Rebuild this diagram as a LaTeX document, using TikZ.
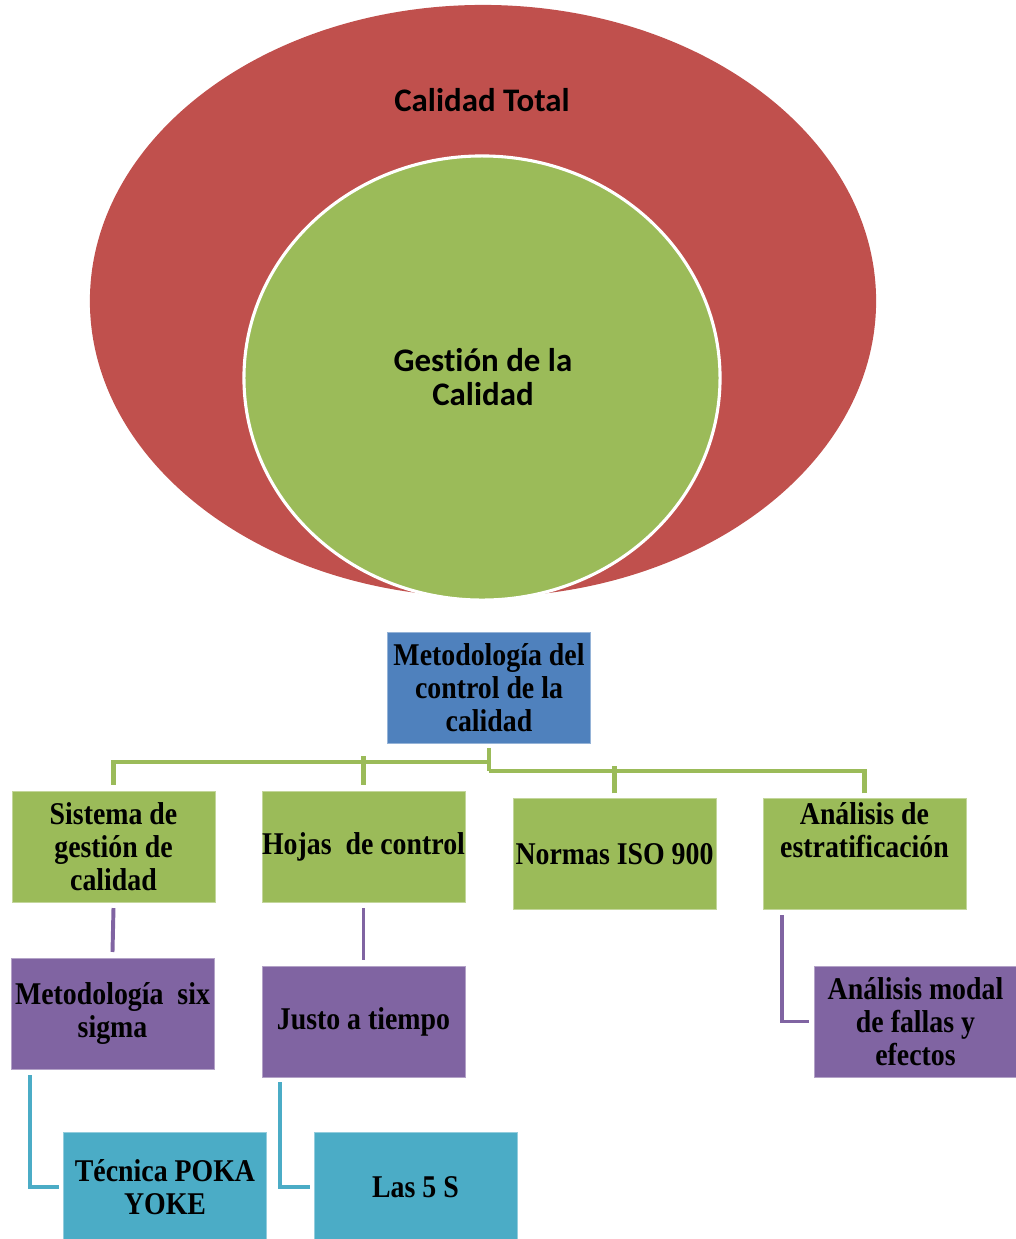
\documentclass[tikz,border=0pt]{standalone}
\usepackage{fontspec}
\usetikzlibrary{shapes.geometric,calc}
\newfontfamily\boxfont[FakeStretch=0.88]{Liberation Serif}
\newfontfamily\ringfont[Ligatures=NoCommon]{Carlito}
\definecolor{cRed}{HTML}{C0504D}
\definecolor{cGreen}{HTML}{9BBB59}
\definecolor{cBlue}{HTML}{4F81BD}
\definecolor{cPurple}{HTML}{8064A2}
\definecolor{cCyan}{HTML}{4BACC6}
\begin{document}
\begin{tikzpicture}[x=0.025cm,y=-0.025cm,
  box/.style={rectangle, inner sep=0pt, outer sep=0pt,
    minimum width=5.075cm, minimum height=2.775cm, line width=0.6pt,
    align=center, font=\boxfont\bfseries\fontsize{22.5}{23.4}\selectfont},
  bluebox/.style={box, fill=cBlue, draw=cBlue!60!white},
  greenbox/.style={box, fill=cGreen, draw=cGreen!60!white},
  purplebox/.style={box, fill=cPurple, draw=cPurple!60!white},
  cyanbox/.style={box, fill=cCyan, draw=cCyan!60!white},
  boxtext/.style={align=center, inner sep=0pt, font=\boxfont\bfseries\fontsize{22.5}{23.4}\selectfont},
  ringtext/.style={align=center, inner sep=0pt, font=\ringfont\bfseries\fontsize{23.4}{24}\selectfont},
  gline/.style={draw=cGreen, line width=3.2pt},
  pline/.style={draw=cPurple, line width=2.8pt},
  cline/.style={draw=cCyan, line width=2.8pt}]
\useasboundingbox (0,0) rectangle (1016,1239);
\begin{scope}
\clip (0,0) rectangle (1016,1239);

% nested quality rings
\node[ellipse, fill=cRed, inner sep=0pt, minimum width=19.65cm, minimum height=14.8cm] (total) at (483,301) {};
\node[ellipse, fill=cGreen, draw=white, line width=2.2pt, inner sep=0pt, minimum width=11.9cm, minimum height=11.1cm] (gestion) at (482,378) {};
\node[ringtext] (totaltxt) at (482,100) {Calidad Total};
\node[ringtext] (gestiontxt) at (483,377) {Gestión de la\\Calidad};

% root
\node[bluebox] (top) at (489,687.5) {Metodología del\\control de la\\calidad};

% first level
\node[greenbox] (a1) at (113.5,846.5) {Sistema de\\gestión de\\calidad};
\node[greenbox] (a2) at (363.5,846.5) {Hojas\ \ de control};
\node[greenbox] (a3) at (614.5,854) {Normas ISO 900};
\node[greenbox] (a4) at (864.5,854) {};
\node[boxtext] (a4txt) at (864.5,830) {Análisis de\\estratificación};

% second level
\node[purplebox] (b1) at (112.5,1013.5) {Metodología\ \ six\\sigma};
\node[purplebox] (b2) at (363.5,1021.5) {Justo a tiempo};
\node[purplebox] (b3) at (915.5,1021.5) {Análisis modal\\de fallas y\\efectos};

% third level
\node[cyanbox, minimum height=2.9cm] (c1) at (165,1190) {};
\node[boxtext] (c1txt) at (165,1187) {Técnica POKA\\YOKE};
\node[cyanbox, minimum height=2.9cm] (c2) at (415.5,1190) {};
\node[boxtext] (c2txt) at (415.5,1187) {Las 5 S};

% green bus from the root
\coordinate (busL) at (489,762);
\coordinate (busR) at (489,771);
\draw[gline] ([yshift=-0.12cm]top.south) -- (busR);
\draw[gline] ([yshift=0.15cm]a1.north) |- (busL);
\draw[gline] ([yshift=0.15cm]a2.north) -- ([yshift=0.15cm]a2.north |- busL);
\draw[gline] ([yshift=0.13cm]a4.north) |- (busR);
\draw[gline] ([yshift=0.13cm]a3.north) -- ([yshift=0.13cm]a3.north |- busR);

% purple links
\draw[pline] ([yshift=-0.15cm]a1.south) -- ([yshift=0.15cm]b1.north);
\draw[pline] ([yshift=-0.15cm]a2.south) -- ([yshift=0.15cm]b2.north);
\coordinate (a4drop) at (782,915);
\draw[pline] (a4drop) |- ([xshift=-0.12cm]b3.west);

% cyan links
\coordinate (b1drop) at (30,1075);
\coordinate (b2drop) at (280,1082);
\draw[cline] (b1drop) |- ([xshift=-0.1cm]c1.west |- c1txt);
\draw[cline] (b2drop) |- ([xshift=-0.1cm]c2.west |- c2txt);
\end{scope}
\end{tikzpicture}
\end{document}
